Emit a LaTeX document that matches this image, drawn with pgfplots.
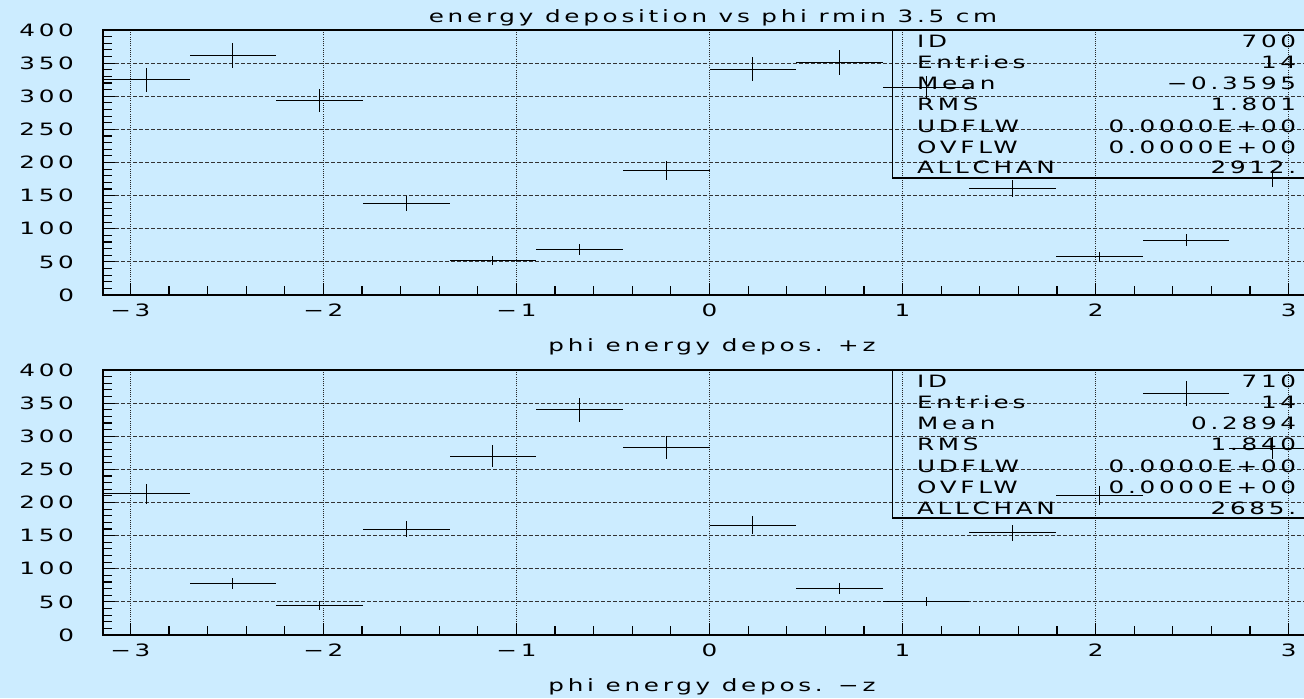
\documentclass[border=0pt]{standalone}
\usepackage{pgfplots}
\usepackage{pgfplotstable}
\pgfplotsset{compat=1.18}
\usepackage{fontspec}
\setmainfont{DejaVu Sans}[FakeStretch=1.45, LetterSpace=22]
\definecolor{bg}{RGB}{204,236,255}
\newcommand{\pf}{\fontsize{8.5}{10}\selectfont}

\pgfplotstableread{
x y ex ey
-2.9172 325 0.2244 18.0
-2.4684 362 0.2244 19.0
-2.0196 294 0.2244 17.1
-1.5708 138 0.2244 11.7
-1.1220 52 0.2244 7.2
-0.6732 69 0.2244 8.3
-0.2244 188 0.2244 13.7
0.2244 341 0.2244 18.5
0.6732 351 0.2244 18.7
1.1220 313 0.2244 17.7
1.5708 161 0.2244 12.7
2.0196 58 0.2244 7.6
2.4684 83 0.2244 9.1
2.9172 176 0.2244 13.3
}\topdata

\pgfplotstableread{
x y ex ey
-2.9172 213 0.2244 14.6
-2.4684 78 0.2244 8.8
-2.0196 45 0.2244 6.7
-1.5708 160 0.2244 12.6
-1.1220 270 0.2244 16.4
-0.6732 340 0.2244 18.4
-0.2244 283 0.2244 16.8
0.2244 166 0.2244 12.9
0.6732 70 0.2244 8.4
1.1220 51 0.2244 7.1
1.5708 154 0.2244 12.4
2.0196 210 0.2244 14.5
2.4684 365 0.2244 19.1
2.9172 282 0.2244 16.8
}\botdata

\tikzset{statnode/.style={font=\pf, inner sep=0pt}}
\pgfplotsset{
  phistyle/.style={
    scale only axis, width=606.5pt, height=132.5pt, anchor=south west,
    xmin=-3.14159, xmax=3.14159, ymin=0, ymax=400,
    xtick={-3,-2,-1,0,1,2,3},
    xticklabels={−3,−2,−1,0,1,2,3},
    ytick={0,50,...,400},
    minor x tick num=4, minor y tick num=4,
    tick align=inside, tick pos=left,
    major tick length=6pt, minor tick length=4.5pt,
    xmajorgrids, ymajorgrids,
    major x grid style={black!85, line width=0.55pt, dash pattern=on 0.5pt off 0.6pt},
    major y grid style={black!80, line width=0.5pt, dash pattern=on 1.8pt off 1.2pt},
    axis line style={black, line width=0.9pt},
    tick style={black, line width=0.6pt},
    tick label style={font=\pf},
    /pgf/number format/assume math mode=true,
    yticklabel style={xshift=-11pt},
    xticklabel style={yshift=-1pt},
  },
  hbars/.style={draw=none, mark=none,
    error bars/.cd, x dir=both, x explicit, y dir=both, y explicit,
    error mark=none, error bar style={draw=black, line width=0.5pt, solid}},
}

\begin{document}
\begin{tikzpicture}
\useasboundingbox (0pt,0pt) rectangle (652pt,349pt);
\fill[bg] (0pt,0pt) rectangle (652pt,349pt);
\clip (0pt,0pt) rectangle (652pt,349pt);

\begin{axis}[phistyle, at={(51.5pt,201.5pt)}]
\addplot[hbars] table[x=x, y=y, x error=ex, y error=ey] {\topdata};
\draw[black, line width=0.9pt] (axis cs:0.948,400) -- (axis cs:0.948,176.6) -- (axis cs:3.3,176.6);
\node[statnode, anchor=west] at (axis cs:1.073,383) {ID};
\node[statnode, anchor=west] at (axis cs:1.073,352) {Entries};
\node[statnode, anchor=west] at (axis cs:1.073,320) {Mean};
\node[statnode, anchor=west] at (axis cs:1.073,288) {RMS};
\node[statnode, anchor=west] at (axis cs:1.073,255) {UDFLW};
\node[statnode, anchor=west] at (axis cs:1.073,223) {OVFLW};
\node[statnode, anchor=west] at (axis cs:1.073,192) {ALLCHAN};
\node[statnode, anchor=east] at (axis cs:3.041,383) {700};
\node[statnode, anchor=east] at (axis cs:3.041,352) {14};
\node[statnode, anchor=east] at (axis cs:3.041,320) {−0.3595};
\node[statnode, anchor=east] at (axis cs:3.041,288) {1.801};
\node[statnode, anchor=east] at (axis cs:3.041,255) {0.0000E+00};
\node[statnode, anchor=east] at (axis cs:3.041,223) {0.0000E+00};
\node[statnode, anchor=east] at (axis cs:3.041,192) {2912.};
\end{axis}

\begin{axis}[phistyle, at={(51.5pt,31.5pt)}]
\addplot[hbars] table[x=x, y=y, x error=ex, y error=ey] {\botdata};
\draw[black, line width=0.9pt] (axis cs:0.948,400) -- (axis cs:0.948,176.6) -- (axis cs:3.3,176.6);
\node[statnode, anchor=west] at (axis cs:1.073,383) {ID};
\node[statnode, anchor=west] at (axis cs:1.073,352) {Entries};
\node[statnode, anchor=west] at (axis cs:1.073,320) {Mean};
\node[statnode, anchor=west] at (axis cs:1.073,288) {RMS};
\node[statnode, anchor=west] at (axis cs:1.073,255) {UDFLW};
\node[statnode, anchor=west] at (axis cs:1.073,223) {OVFLW};
\node[statnode, anchor=west] at (axis cs:1.073,192) {ALLCHAN};
\node[statnode, anchor=east] at (axis cs:3.041,383) {710};
\node[statnode, anchor=east] at (axis cs:3.041,352) {14};
\node[statnode, anchor=east] at (axis cs:3.041,320) {0.2894};
\node[statnode, anchor=east] at (axis cs:3.041,288) {1.840};
\node[statnode, anchor=east] at (axis cs:3.041,255) {0.0000E+00};
\node[statnode, anchor=east] at (axis cs:3.041,223) {0.0000E+00};
\node[statnode, anchor=east] at (axis cs:3.041,192) {2685.};
\end{axis}

\node[font=\pf, inner sep=0pt] at (356.5pt,340pt) {energy deposition vs phi rmin 3.5 cm};
\node[font=\pf, inner sep=0pt] at (356pt,175.5pt) {phi energy depos. +z};
\node[font=\pf, inner sep=0pt] at (356pt,5.5pt) {phi energy depos. −z};
\end{tikzpicture}
\end{document}
